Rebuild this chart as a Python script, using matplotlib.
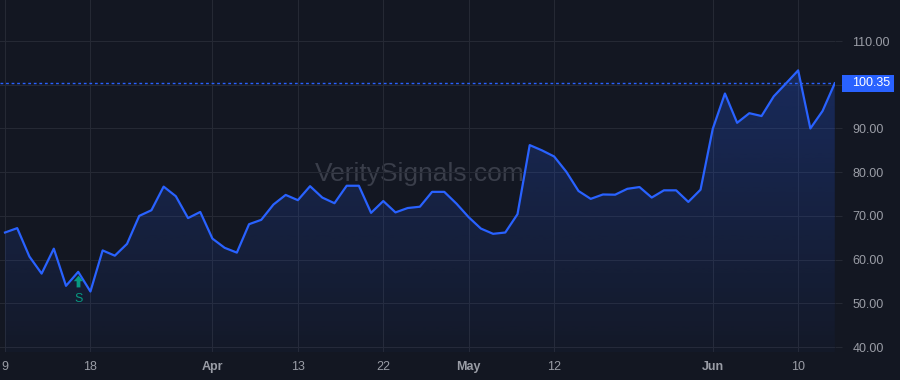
import numpy as np
import pandas as pd
import matplotlib
matplotlib.use("Agg")
import matplotlib.pyplot as plt
from matplotlib.path import Path
from matplotlib.patches import Polygon, Rectangle
import matplotlib.transforms as mtransforms

plt.rcParams['font.family'] = ['Liberation Sans', 'DejaVu Sans']

# ---------------- data ----------------
start_date = "2026-03-09"
end_date = "2026-06-15"
holidays = ["2026-04-03", "2026-05-25"]

prices = [66.2, 67.2, 60.7, 56.8, 62.5, 54.0, 57.2, 52.7, 62.1, 60.9,
          63.6, 70.0, 71.3, 76.7, 74.5, 69.5, 70.9, 64.8, 62.7, 61.6,
          68.1, 69.1, 72.6, 74.8, 73.6, 76.8, 74.2, 72.9, 76.9, 76.9,
          70.7, 73.4, 70.8, 71.8, 72.1, 75.5, 75.5, 72.8, 69.7, 67.1,
          65.9, 66.2, 70.4, 86.2, 85.0, 83.6, 80.1, 75.7, 73.9, 74.9,
          74.85, 76.2, 76.6, 74.2, 75.85, 75.85, 73.2, 76.0, 89.9, 98.0,
          91.3, 93.5, 92.85, 97.35, 100.3, 103.3, 90.0, 94.0, 100.35]

tick_dates = ["2026-03-09", "2026-03-18", "2026-04-01", "2026-04-13", "2026-04-22",
              "2026-05-01", "2026-05-12", "2026-06-01", "2026-06-10"]
tick_labels = ["9", "18", "Apr", "13", "22", "May", "12", "Jun", "10"]
month_labels = ["Apr", "May", "Jun"]
y_ticks = [40, 50, 60, 70, 80, 90, 100, 110]
signal_date = "2026-03-17"
signal_label = "S"
watermark = "VeritySignals.com"

# ---------------- styles ----------------
BG = "#131722"
GRID = "#252934"
BLUE = "#2962ff"
TEXT = "#9a9da6"
GREEN = "#089981"
FS = 9.0

dates = pd.bdate_range(start_date, end_date)
dates = dates[~dates.isin(pd.to_datetime(holidays))]
x = np.arange(len(dates))
y = np.array(prices)
assert len(x) == len(y)

fig = plt.figure(figsize=(9, 3.8), dpi=100, facecolor=BG)
W, H = 900, 380
ax = fig.add_axes([0, 28 / H, 835 / W, 352 / H])
ax.set_facecolor(BG)
for s in ax.spines.values():
    s.set_visible(False)

ymin, ymax = 38.86, 119.4
xmin, xmax = -0.41, len(x) - 1 + 0.02

# gradient fill under line
verts = [(x[0], ymin)] + list(zip(x, y)) + [(x[-1], ymin)]
poly = Polygon(verts, closed=True, facecolor='none', edgecolor='none')
ax.add_patch(poly)
n = 256
rgba = np.zeros((n, 1, 4))
rgba[..., 0], rgba[..., 1], rgba[..., 2] = 41 / 255, 98 / 255, 1.0
rgba[:, 0, 3] = np.linspace(0.03, 0.26, n)
im = ax.imshow(rgba, extent=[x[0], x[-1], ymin, y.max()], origin='lower',
               aspect='auto', zorder=1, interpolation='bilinear')
im.set_clip_path(poly)

ax.plot(x, y, color=BLUE, lw=1.6, zorder=3, solid_joinstyle='round')

ax.set_xlim(xmin, xmax)
ax.set_ylim(ymin, ymax)

last = prices[-1]

# grid & ticks
ax.grid(True, color=GRID, lw=0.8, zorder=0)
ax.set_axisbelow(True)
ax.yaxis.tick_right()
ax.set_yticks(y_ticks)
# the label hidden behind the last-price box is left blank
ax.set_yticklabels(["" if abs(v - last) < 3 else f"{v:.2f}" for v in y_ticks])
ax.tick_params(axis='y', length=5, width=0.8, color=GRID, pad=7.5,
               labelsize=FS, labelcolor=TEXT)

tick_pos = [int(np.where(dates == pd.Timestamp(d))[0][0]) for d in tick_dates]
ax.set_xticks(tick_pos)
ax.set_xticklabels(tick_labels)
ax.tick_params(axis='x', length=0, pad=6.5, labelsize=FS, labelcolor=TEXT)
for lab in ax.get_xticklabels():
    if lab.get_text() in month_labels:
        lab.set_fontweight('bold')

# watermark
ax.text(0.503, 0.487, watermark, transform=ax.transAxes, ha='center',
        va='baseline', fontsize=19, color='#3a3e4a', zorder=0.5)

# last price line + label
ax.axhline(last, color=BLUE, lw=1.0, linestyle=(0, (2.0, 2.0)), zorder=2)
fig.canvas.draw()
ypx = ax.transData.transform((0, last))[1]
axr = ax.transAxes.transform((1, 0))[0]
box = Rectangle((axr + 7, ypx - 8.5), 52, 17, transform=mtransforms.IdentityTransform(),
                facecolor=BLUE, edgecolor='none', clip_on=False, zorder=5)
fig.patches.append(box)
fig.text((axr + 17) / W, ypx / H, f"{last:.2f}", ha='left', va='center',
         color='white', fontsize=FS, zorder=6)

# signal marker
si = int(np.where(dates == pd.Timestamp(signal_date))[0][0])
arrow = Path([(0, 1), (0.8, 0.05), (0.32, 0.05), (0.32, -1), (-0.32, -1),
              (-0.32, 0.05), (-0.8, 0.05), (0, 1)],
             [Path.MOVETO] + [Path.LINETO] * 6 + [Path.CLOSEPOLY])
off = ax.transData + mtransforms.ScaledTranslation(0, -9.5 / 100, fig.dpi_scale_trans)
ax.plot([x[si]], [y[si]], marker=arrow, ms=8.5, color=GREEN, mec='none',
        transform=off, zorder=4, clip_on=False)
ax.annotate(signal_label, xy=(x[si], y[si]), xytext=(0, -21.5), textcoords='offset points',
            ha='center', va='baseline', color=GREEN, fontsize=FS, zorder=4)

fig.savefig("out.png", dpi=100, facecolor=BG)
